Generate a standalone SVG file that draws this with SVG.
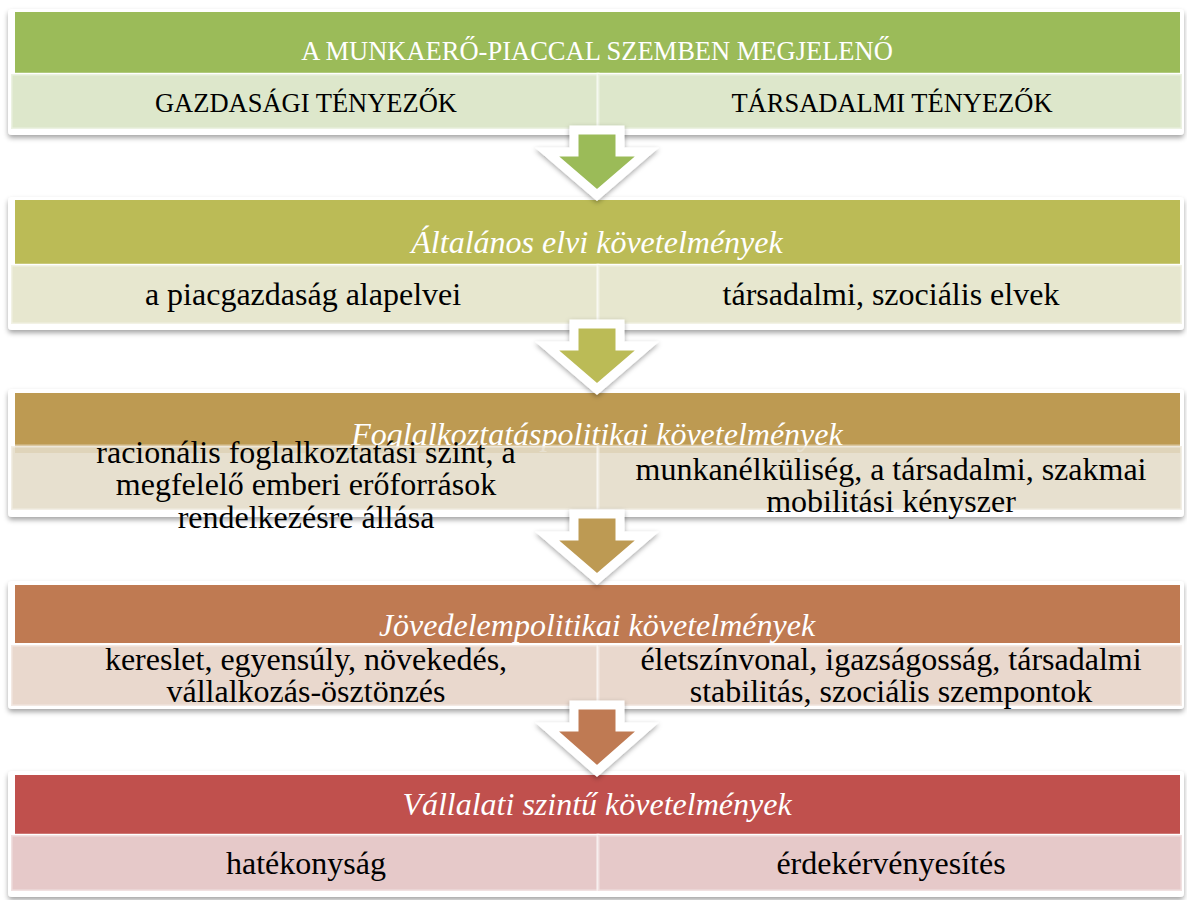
<svg xmlns="http://www.w3.org/2000/svg" width="1187" height="900" viewBox="0 0 1187 900">
<defs>
<filter id="sh" x="-5%" y="-20%" width="110%" height="150%">
<feDropShadow dx="0" dy="3" stdDeviation="2.5" flood-color="#000" flood-opacity="0.35"/>
</filter>
<filter id="ash" x="-30%" y="-30%" width="160%" height="160%">
<feDropShadow dx="0" dy="2" stdDeviation="2.5" flood-color="#000" flood-opacity="0.35"/>
</filter>
<style>
.card{fill:#fff;filter:url(#sh)}
.cell{stroke:#fff;stroke-opacity:0.45;stroke-width:3;fill-opacity:0.88}
.ht{font-family:"Liberation Serif","Times New Roman",serif;fill:#fff;text-anchor:middle}
.hi{font-style:italic;font-size:32px}
.hc{font-size:26.5px}
.ct{font-family:"Liberation Serif","Times New Roman",serif;fill:#000;text-anchor:middle;font-size:32px}
.cc{font-size:26.5px}
.arrow{stroke:#fff;stroke-width:9;stroke-linejoin:miter;filter:url(#ash)}
</style>
</defs>
<rect width="1187" height="900" fill="#fff"/>

<g id="block1">
<rect class="card" x="8" y="9" width="1176" height="126" rx="4"/>
<rect x="15" y="12" width="1165" height="61" fill="#9BBB59"/>
<text class="ht hc" x="597" y="60">A MUNKAERŐ-PIACCAL SZEMBEN MEGJELENŐ</text>
<rect class="cell" x="11" y="74" width="587" height="55" fill="#D8E4C4"/>
<rect class="cell" x="598" y="74" width="584" height="55" fill="#D8E4C4"/>
<text class="ct cc" x="306" y="112">GAZDASÁGI TÉNYEZŐK</text>
<text class="ct cc" x="892" y="112">TÁRSADALMI TÉNYEZŐK</text>
</g>

<g id="block2">
<rect class="card" x="8" y="197" width="1176" height="133" rx="4"/>
<rect x="15" y="200" width="1165" height="64" fill="#BBBB56"/>
<text class="ht hi" x="597" y="253">Általános elvi követelmények</text>
<rect class="cell" x="11" y="265" width="587" height="59" fill="#E4E4C8"/>
<rect class="cell" x="598" y="265" width="584" height="59" fill="#E4E4C8"/>
<text class="ct" x="303" y="305">a piacgazdaság alapelvei</text>
<text class="ct" x="891" y="305">társadalmi, szociális elvek</text>
</g>

<g id="block3">
<rect class="card" x="8" y="389" width="1176" height="128" rx="4"/>
<rect x="15" y="393" width="1165" height="60" fill="#BD9A52"/>
<text class="ht hi" x="597" y="445">Foglalkoztatáspolitikai követelmények</text>
<rect class="cell" x="11" y="446" width="587" height="64" fill="#E4DCC8"/>
<rect class="cell" x="598" y="446" width="584" height="64" fill="#E4DCC8"/>
<text class="ct" x="306" y="463">racionális foglalkoztatási szint, a</text>
<text class="ct" x="306" y="495">megfelelő emberi erőforrások</text>
<text class="ct" x="306" y="528">rendelkezésre állása</text>
<text class="ct" x="891" y="480">munkanélküliség, a társadalmi, szakmai</text>
<text class="ct" x="891" y="512">mobilitási kényszer</text>
</g>

<g id="block4">
<rect class="card" x="8" y="581" width="1176" height="128" rx="4"/>
<rect x="15" y="585" width="1165" height="58" fill="#BF7A52"/>
<text class="ht hi" x="597" y="636">Jövedelempolitikai követelmények</text>
<rect class="cell" x="11" y="645" width="587" height="61" fill="#E6D3C6"/>
<rect class="cell" x="598" y="645" width="584" height="61" fill="#E6D3C6"/>
<text class="ct" x="306" y="670">kereslet, egyensúly, növekedés,</text>
<text class="ct" x="306" y="702">vállalkozás-ösztönzés</text>
<text class="ct" x="891" y="670">életszínvonal, igazságosság, társadalmi</text>
<text class="ct" x="891" y="702">stabilitás, szociális szempontok</text>
</g>

<g id="block5">
<rect class="card" x="8" y="771" width="1176" height="126" rx="4"/>
<rect x="15" y="775" width="1165" height="59" fill="#C0504D"/>
<text class="ht hi" x="597" y="815">Vállalati szintű követelmények</text>
<rect class="cell" x="11" y="835" width="587" height="56" fill="#E2C2C1"/>
<rect class="cell" x="598" y="835" width="584" height="56" fill="#E2C2C1"/>
<text class="ct" x="306" y="874">hatékonyság</text>
<text class="ct" x="891" y="874">érdekérvényesítés</text>
</g>

<g id="connectors">
<polygon class="arrow" fill="#9BBB59" points="574,130 620,130 620,152 647,152 597,195 547,152 574,152"/>
<polygon class="arrow" fill="#BBBB56" points="574,324 620,324 620,346 647,346 597,389 547,346 574,346"/>
<polygon class="arrow" fill="#BD9A52" points="574,514 620,514 620,536 647,536 597,579 547,536 574,536"/>
<polygon class="arrow" fill="#BF7A52" points="574,705 620,705 620,727 647,727 597,771 547,727 574,727"/>
</g>
</svg>
